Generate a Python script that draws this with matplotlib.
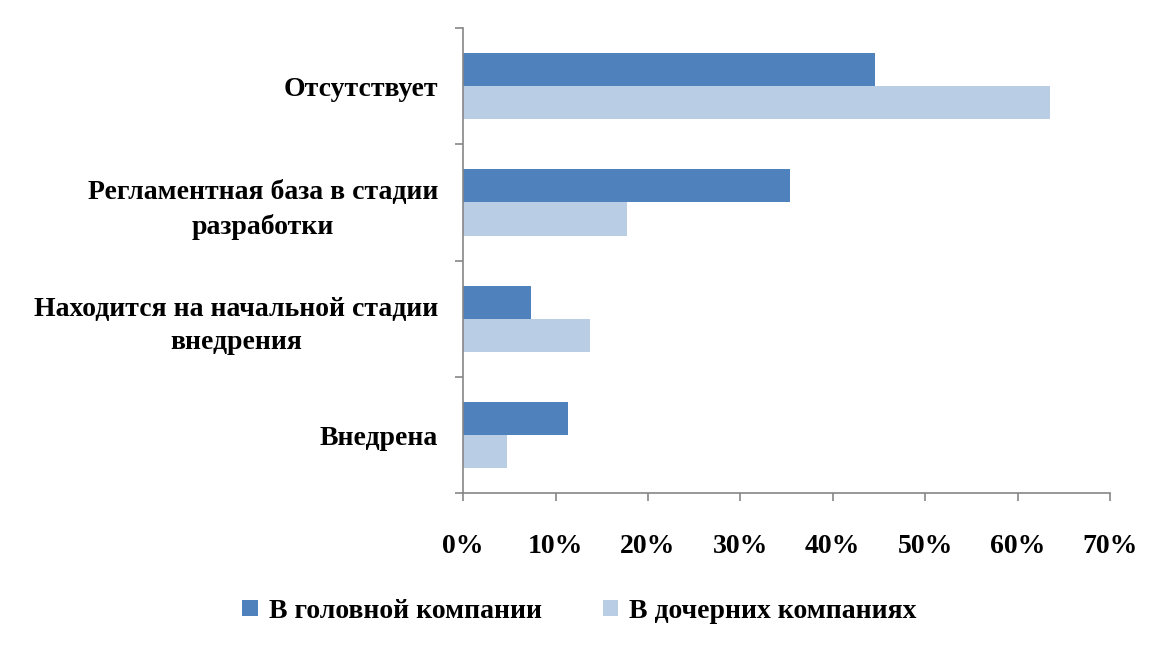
import numpy as np
import matplotlib.pyplot as plt
from matplotlib.ticker import PercentFormatter

plt.rcParams['font.family'] = ['Liberation Serif', 'DejaVu Serif']
plt.rcParams['font.weight'] = 'bold'
plt.rcParams['font.size'] = 20

categories = ['Отсутствует', 'Регламентная база в стадии\nразработки',
              'Находится на начальной стадии\nвнедрения', 'Внедрена']
head_company = [44.6, 35.4, 7.4, 11.3]
subsidiaries = [63.5, 17.7, 13.7, 4.8]
series_names = ['В головной компании', 'В дочерних компаниях']
colors = ['#4f81bd', '#b9cde5']

fig = plt.figure(figsize=(11.52, 6.49), dpi=100)
ax = fig.add_axes([0.402, 0.240, 0.5615, 0.717])

y = np.arange(len(categories))
h = 0.285
ax.barh(y - h / 2, head_company, height=h, color=colors[0], label=series_names[0])
ax.barh(y + h / 2, subsidiaries, height=h, color=colors[1], label=series_names[1])

ax.set_xlim(0, 70)
ax.set_ylim(len(categories) - 0.5, -0.5)
ax.xaxis.set_major_formatter(PercentFormatter(decimals=0))
ax.set_xticks(np.arange(0, 71, 10))

# ticks on category boundaries, labels in the middle
ax.set_yticks(np.arange(-0.5, len(categories), 1))
ax.set_yticklabels([])
ax.set_yticks(y, minor=True)
ax.set_yticklabels(categories, minor=True, ha='right', multialignment='center',
                   linespacing=1.45)
ax.tick_params(axis='y', which='minor', length=0, pad=18)
ax.tick_params(axis='y', which='major', length=6, color='#868686', width=1.2)
ax.tick_params(axis='x', length=6, color='#868686', width=1.2, pad=23)

for side in ['top', 'right']:
    ax.spines[side].set_visible(False)
for side in ['left', 'bottom']:
    ax.spines[side].set_color('#868686')
    ax.spines[side].set_linewidth(1.2)

fig.legend(loc='center', bbox_to_anchor=(0.503, 0.058), ncol=2, frameon=False,
           handlelength=0.55, handleheight=0.55, handletextpad=0.4, columnspacing=2.2)

fig.savefig('out.png', dpi=100)
